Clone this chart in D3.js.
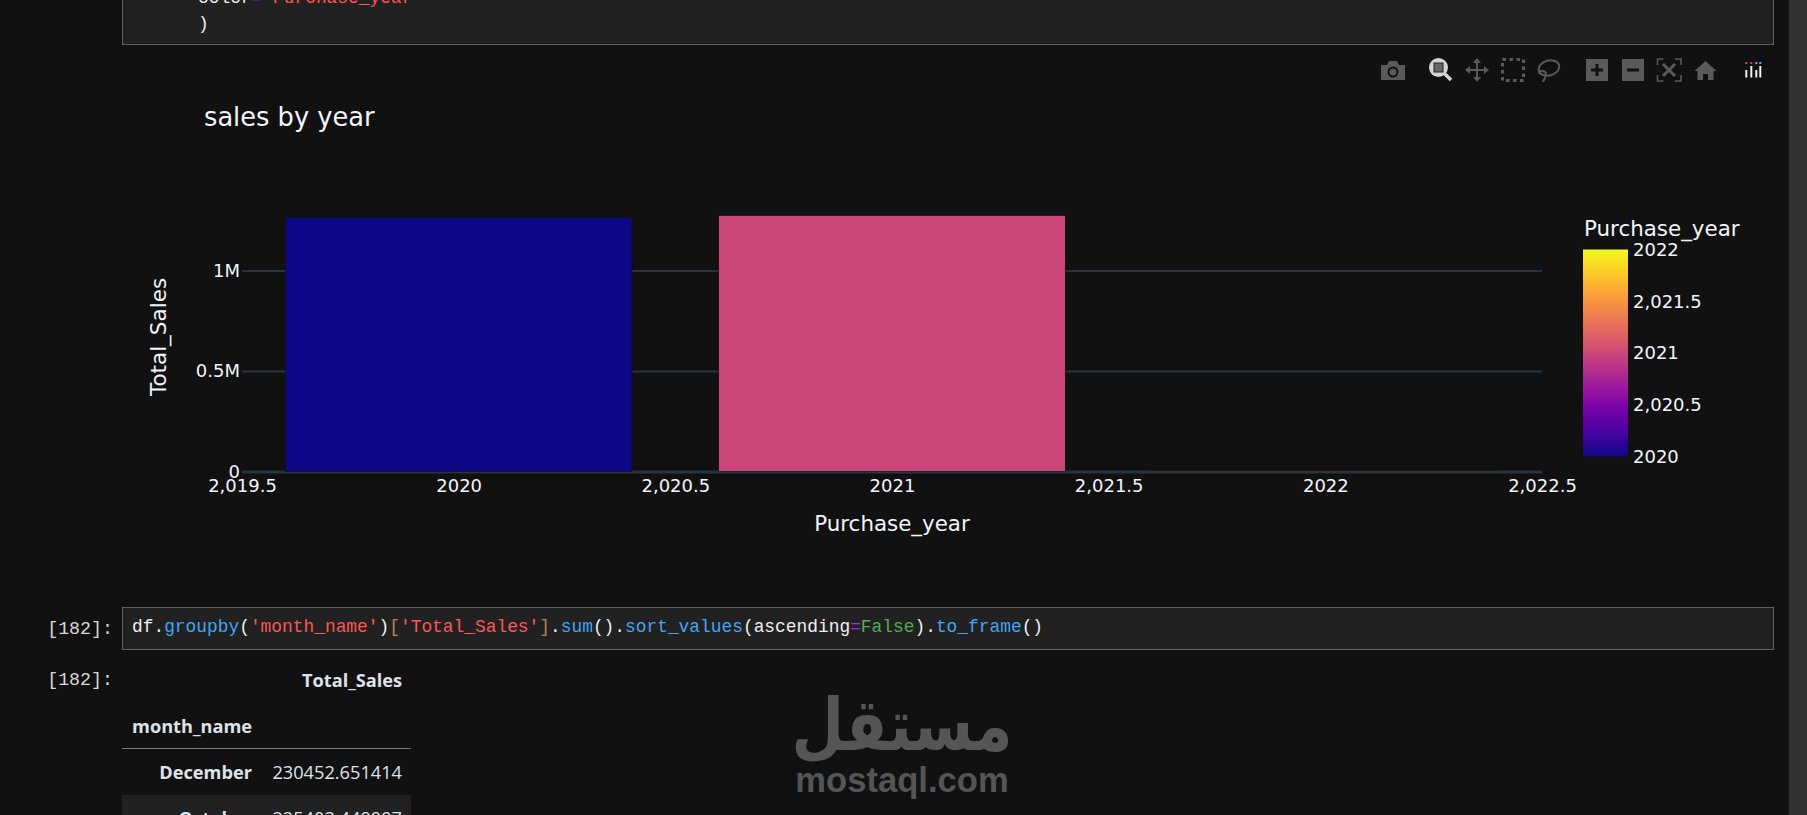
<!DOCTYPE html>
<html>
<head>
<meta charset="utf-8">
<script src="https://cdn.jsdelivr.net/npm/d3@7"></script>
<style>
    html, body { margin: 0; padding: 0; background: #111111; overflow: hidden; }
    svg { display: block; }
    .plotText { font-family: "DejaVu Sans", sans-serif; fill: #f2f5fa; }
    .code { font-family: "Liberation Mono", monospace; font-size: 17.86px; fill: #f0f0f0; white-space: pre; }
    .tableText { font-family: "Open Sans", sans-serif; font-size: 18.2px; fill: #dfe3e8; }
    .axisLine .domain { display: none; }
</style>
</head>
<body>
<div id="chart"></div>
<script>
const years = [2020, 2021, 2022]
const totalSales = [1264000, 1274000, 2500]
const barWidth = 0.8

const xTicks = [2019.5, 2020, 2020.5, 2021, 2021.5, 2022, 2022.5]
const xTickLabels = ["2,019.5", "2020", "2,020.5", "2021", "2,021.5", "2022", "2,022.5"]
const yTicks = [0, 500000, 1000000]
const yTickLabels = ["0", "0.5M", "1M"]
const colorTicks = [2020, 2020.5, 2021, 2021.5, 2022]
const colorTickLabels = ["2020", "2,020.5", "2021", "2,021.5", "2022"]
const plasma = ["#0d0887", "#46039f", "#7201a8", "#9c179e", "#bd3786", "#d8576b", "#ed7953", "#fb9f3a", "#fdca26", "#f0f921"]

const topCode = [
    [["color", "#f0f0f0"], ["=", "#aa22ff"], [" Purchase_year", "#ff5555"]],
    [[")", "#f0f0f0"]]
]
const cellCode = [
    ["df", "#f0f0f0"], [".", "#f0f0f0"], ["groupby", "#42a5f5"], ["(", "#f0f0f0"], ["'month_name'", "#ff5555"], [")", "#f0f0f0"],
    ["[", "#b5835a"], ["'Total_Sales'", "#ff5555"], ["]", "#b5835a"], [".", "#f0f0f0"], ["sum", "#42a5f5"], ["()", "#f0f0f0"], [".", "#f0f0f0"],
    ["sort_values", "#42a5f5"], ["(", "#f0f0f0"], ["ascending", "#f0f0f0"], ["=", "#aa22ff"], ["False", "#4caf50"], [")", "#f0f0f0"], [".", "#f0f0f0"],
    ["to_frame", "#42a5f5"], ["()", "#f0f0f0"]
]
const months = ["December", "October"]
const monthSales = ["230452.651414", "225403.449997"]

const width = 1807
const height = 815

const svg = d3.select("#chart")
    .append("svg")
    .attr("width", width)
    .attr("height", height)

svg.append("rect").attr("width", width).attr("height", height).attr("fill", "#111111")
svg.append("rect").attr("x", 1789).attr("width", 18).attr("height", height).attr("fill", "#333333")

// notebook cells around the plot
function codeCell(y, h) {
    svg.append("rect")
        .attr("x", 122.5).attr("y", y + 0.5)
        .attr("width", 1651).attr("height", h)
        .attr("fill", "#212121")
        .attr("stroke", "#616161")
}
function codeLine(x, y, parts) {
    const t = svg.append("text").attr("class", "code").attr("x", x).attr("y", y)
    parts.forEach(p => t.append("tspan").attr("fill", p[1]).text(p[0]))
}
codeCell(-10, 54)
topCode.forEach((line, i) => codeLine(198, 3 + i * 26, line))
codeCell(607, 42)
codeLine(132, 632, cellCode)

svg.selectAll(".prompt")
    .data([634, 685])
    .enter().append("text")
    .attr("class", "code prompt")
    .attr("x", 113).attr("y", d => d)
    .attr("text-anchor", "end")
    .style("font-size", "18.3px")
    .style("fill", "#d8d8d8")
    .text("[182]:")

// output table
svg.append("rect").attr("x", 122).attr("y", 795).attr("width", 289).attr("height", 20).attr("fill", "#212121")
svg.append("line").attr("x1", 122).attr("x2", 411).attr("y1", 748.5).attr("y2", 748.5).attr("stroke", "#757575")
svg.append("text").attr("class", "tableText").attr("x", 402).attr("y", 687).attr("text-anchor", "end")
    .style("font-weight", 700).text("Total_Sales")
svg.append("text").attr("class", "tableText").attr("x", 252).attr("y", 733).attr("text-anchor", "end")
    .style("font-weight", 700).text("month_name")
months.forEach((m, i) => {
    svg.append("text").attr("class", "tableText").attr("x", 252).attr("y", 779 + i * 46).attr("text-anchor", "end")
        .style("font-weight", 700).text(m)
    svg.append("text").attr("class", "tableText").attr("x", 402).attr("y", 779 + i * 46).attr("text-anchor", "end")
        .text(monthSales[i])
})

// plot
const xScale = d3.scaleLinear().domain([2019.5, 2022.5]).range([242, 1542])
const yScale = d3.scaleLinear().domain([0, 1000000]).range([471.5, 270.5])
const colorScale = d3.scaleLinear()
    .domain(plasma.map((c, i) => 2020 + 2 * i / (plasma.length - 1)))
    .range(plasma)

svg.append("text").attr("class", "plotText").attr("x", 204).attr("y", 126)
    .style("font-size", "25.7px").text("sales by year")

const yAxis = svg.append("g")
    .attr("class", "axisLine plotText")
    .attr("transform", "translate(242,0)")
    .call(d3.axisLeft(yScale).tickValues(yTicks).tickFormat((d, i) => yTickLabels[i]).tickSize(-1300).tickPadding(2))
yAxis.selectAll("line").attr("stroke", "#283442").attr("stroke-width", d => d === 0 ? 3 : 1.8)
yAxis.selectAll("text")
    .attr("fill", "#f2f5fa")
    .attr("font-family", "DejaVu Sans")
    .attr("font-size", 18)

svg.selectAll(".bar")
    .data(years)
    .enter().append("rect")
    .attr("class", "bar")
    .attr("x", d => xScale(d - barWidth / 2))
    .attr("y", (d, i) => yScale(totalSales[i]))
    .attr("width", xScale(2019.5 + barWidth) - xScale(2019.5))
    .attr("height", (d, i) => yScale(0) - yScale(totalSales[i]))
    .attr("fill", d => colorScale(d))
    .attr("stroke", "#111111")
    .attr("stroke-width", 0.7)

const xAxis = svg.append("g")
    .attr("class", "axisLine plotText")
    .attr("transform", "translate(0,474)")
    .call(d3.axisBottom(xScale).tickValues(xTicks).tickFormat((d, i) => xTickLabels[i]).tickSize(0).tickPadding(5))
xAxis.selectAll("text")
    .attr("fill", "#f2f5fa")
    .attr("font-family", "DejaVu Sans")
    .attr("font-size", 18)

svg.append("text").attr("class", "plotText").attr("x", 892).attr("y", 531).attr("text-anchor", "middle")
    .style("font-size", "21.4px").text("Purchase_year")
svg.append("text").attr("class", "plotText").attr("transform", "translate(166,337) rotate(-90)").attr("text-anchor", "middle")
    .style("font-size", "21.5px").text("Total_Sales")

// colorbar
const cbScale = d3.scaleLinear().domain([2020, 2022]).range([456.5, 249.5])
const gradient = svg.append("linearGradient")
    .attr("id", "plasmaGradient")
    .attr("x1", "0%").attr("y1", "100%")
    .attr("x2", "0%").attr("y2", "0%")
plasma.forEach((c, i) => {
    gradient.append("stop").attr("offset", (i / (plasma.length - 1) * 100) + "%").attr("stop-color", c)
})
svg.append("rect")
    .attr("x", 1583).attr("y", cbScale(2022))
    .attr("width", 45).attr("height", cbScale(2020) - cbScale(2022))
    .style("fill", "url(#plasmaGradient)")
const cbAxis = svg.append("g")
    .attr("class", "axisLine plotText")
    .attr("transform", "translate(1628,0)")
    .call(d3.axisRight(cbScale).tickValues(colorTicks).tickFormat((d, i) => colorTickLabels[i]).tickSize(0).tickPadding(5))
cbAxis.selectAll("text")
    .attr("fill", "#f2f5fa")
    .attr("font-family", "DejaVu Sans")
    .attr("font-size", 18)
svg.append("text").attr("class", "plotText").attr("x", 1584).attr("y", 236)
    .style("font-size", "21.4px").text("Purchase_year")

// modebar
const iconColor = "#5a5a5a"
const bar = svg.append("g")
function squareIcon(x, sign) {
    bar.append("rect").attr("x", x).attr("y", 59).attr("width", 22).attr("height", 22).attr("fill", iconColor)
    bar.append("path").attr("d", sign).attr("transform", "translate(" + x + ",59)").attr("stroke", "#111111").attr("stroke-width", 3).attr("fill", "none")
}
// camera
bar.append("path").attr("fill", iconColor)
    .attr("d", "M1381 65h6l2-4h8l2 4h6v15h-24z")
bar.append("circle").attr("cx", 1393).attr("cy", 72).attr("r", 4.5).attr("fill", "none").attr("stroke", "#111111").attr("stroke-width", 2)
// zoom (active)
bar.append("circle").attr("cx", 1438.5).attr("cy", 67.5).attr("r", 9.5).attr("fill", "#d4d4d4")
bar.append("rect").attr("x", 1434).attr("y", 63).attr("width", 9).attr("height", 9).attr("fill", "#666666").attr("stroke", "#222222")
bar.append("line").attr("x1", 1445).attr("y1", 74).attr("x2", 1451).attr("y2", 80).attr("stroke", "#d4d4d4").attr("stroke-width", 3.5)
// pan
bar.append("path").attr("fill", iconColor)
    .attr("d", "M1477 58l4 5h-3v6h6v-3l5 4-5 4v-3h-6v6h3l-4 5-4-5h3v-6h-6v3l-5-4 5-4v3h6v-6h-3z")
// box select
bar.append("rect").attr("x", 1502.5).attr("y", 59.5).attr("width", 21).attr("height", 21)
    .attr("fill", "none").attr("stroke", iconColor).attr("stroke-width", 3).attr("stroke-dasharray", "3.5 3.5")
// lasso
bar.append("ellipse").attr("cx", 1549).attr("cy", 68).attr("rx", 10.5).attr("ry", 7.5).attr("transform", "rotate(-15 1549 68)")
    .attr("fill", "none").attr("stroke", iconColor).attr("stroke-width", 2)
bar.append("path").attr("d", "M1539 74c0 -4 7 -4 7 0c0 3 -2 5 -3 8").attr("fill", "none").attr("stroke", iconColor).attr("stroke-width", 2)
// zoom in, zoom out
squareIcon(1586, "M11 5v12M5 11h12")
squareIcon(1622, "M5 11h12")
// autoscale
bar.append("path").attr("fill", "none").attr("stroke", iconColor).attr("stroke-width", 1.6)
    .attr("d", "M1657.5 65v-6h6M1675 59h6v6M1681 75v6h-6M1663.5 81h-6v-6")
bar.append("path").attr("fill", "none").attr("stroke", iconColor).attr("stroke-width", 3)
    .attr("d", "M1663 64l12 12M1675 64l-12 12")
// home
bar.append("path").attr("fill", iconColor)
    .attr("d", "M1705.5 61l11 10h-3v9h-5.5v-6h-5v6h-5.5v-9h-3z")
// plotly logo
const logoCols = [1746, 1751, 1756, 1760]
const logoDots = ["#e8476a", "#d0406a", "#8aa0c8", "#59a5e0"]
const logoTops = [70, 66, 70, 66]
logoCols.forEach((x, i) => {
    bar.append("rect").attr("x", x - 0.7).attr("y", 62).attr("width", 2).attr("height", 2).attr("fill", logoDots[i])
    bar.append("rect").attr("x", x - 0.7).attr("y", logoTops[i]).attr("width", 2).attr("height", 77.5 - logoTops[i]).attr("fill", "#f0f0f0")
})

// watermark
svg.append("text")
    .attr("transform", "translate(902,750) scale(0.84,1)")
    .attr("text-anchor", "middle")
    .attr("fill", "#555555")
    .attr("font-family", "DejaVu Sans").attr("font-weight", 700).attr("font-size", 72)
    .text("مستقل")
svg.append("text")
    .attr("x", 902).attr("y", 792).attr("text-anchor", "middle")
    .attr("fill", "#555555")
    .attr("font-family", "Liberation Sans").attr("font-weight", 700).attr("font-size", 34.6)
    .text("mostaql.com")
</script>
</body>
</html>
